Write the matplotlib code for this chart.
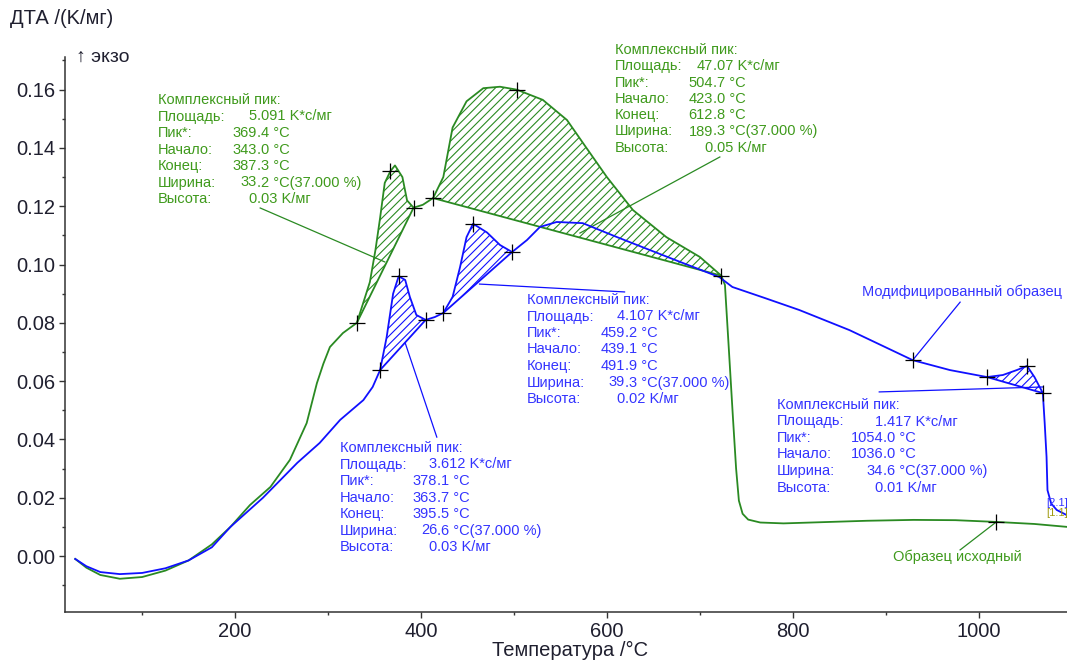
"""DTA curves of the initial and modified sample with complex-peak annotations."""
import matplotlib
matplotlib.use("Agg")
import matplotlib.pyplot as plt
import numpy as np

plt.rcParams["font.family"] = ["Liberation Sans", "DejaVu Sans"]
plt.rcParams["hatch.linewidth"] = 0.8

# ---- data ----
# green: "Образец исходный"
green_t = [28, 40, 55, 76, 100, 125, 150, 175, 195, 216, 238, 259, 277, 288, 295,
           302, 316, 331, 345, 351, 356, 361, 367, 372, 380, 385, 392, 402, 413,
           424, 434, 449, 467, 485, 503, 531, 557, 578, 600, 628, 664, 700, 723,
           727, 731, 735.5, 739, 742, 746, 752, 765, 790, 830, 880, 930, 975,
           1019, 1060, 1095]
green_dta = [-0.001, -0.004, -0.0065, -0.0078, -0.0072, -0.005, -0.0015, 0.004,
             0.010, 0.0175, 0.0237, 0.033, 0.0456, 0.0593, 0.066, 0.0717, 0.0765,
             0.080, 0.094, 0.105, 0.116, 0.128, 0.132, 0.134, 0.130, 0.122, 0.1195,
             0.1205, 0.1228, 0.130, 0.147, 0.156, 0.1605, 0.161, 0.160, 0.1565,
             0.1496, 0.140, 0.130, 0.1187, 0.1094, 0.1026, 0.0962, 0.093, 0.072,
             0.048, 0.030, 0.019, 0.0145, 0.0125, 0.0115, 0.0112, 0.0116, 0.0121,
             0.0124, 0.0123, 0.0117, 0.0110, 0.0100]

# blue: "Модифицированный образец"
blue_t = [28, 40, 55, 76, 100, 125, 150, 175, 195, 230, 267, 291, 313, 338, 348,
          356, 363, 370, 376, 383, 388, 395, 405, 415, 424, 434, 442, 449, 456,
          471, 485, 498, 514, 528, 546, 574, 611, 646, 682, 721, 735, 770, 807,
          861, 929, 969, 1009, 1026, 1041, 1052, 1060, 1069, 1071, 1073, 1074,
          1078, 1084, 1095]
blue_dta = [-0.001, -0.0035, -0.0055, -0.0062, -0.0058, -0.0042, -0.0015, 0.003,
            0.010, 0.020, 0.032, 0.0388, 0.0467, 0.0535, 0.058, 0.0638, 0.075,
            0.090, 0.096, 0.0947, 0.0889, 0.0827, 0.081, 0.082, 0.0834, 0.0889,
            0.0991, 0.1094, 0.114, 0.111, 0.1067, 0.1043, 0.1084, 0.1129, 0.1146,
            0.1142, 0.1094, 0.105, 0.1005, 0.0957, 0.0923, 0.0885, 0.0844, 0.0775,
            0.0672, 0.0638, 0.0614, 0.0621, 0.0638, 0.0652, 0.0614, 0.0559,
            0.0456, 0.034, 0.0226, 0.018, 0.0158, 0.014]

# hatched peak ranges (start, end temperature) and "+" markers
green_peaks = [(331, 392), (413, 723)]
blue_peaks = [(356, 405), (424, 498), (1009, 1069)]
green_marks = [331, 367, 392, 413, 503, 723, 1019]
blue_marks = [356, 376, 405, 424, 456, 498, 929, 1009, 1052, 1069]

# annotation tables
green_ann1 = [("Площадь:", "5", ".091 K*c/мг"), ("Пик*:", "369", ".4 °C"),
              ("Начало:", "343", ".0 °C"), ("Конец:", "387", ".3 °C"),
              ("Ширина:", "33", ".2 °C(37.000 %)"), ("Высота:", "0", ".03 K/мг")]
green_ann2 = [("Площадь:", "47", ".07 K*c/мг"), ("Пик*:", "504", ".7 °C"),
              ("Начало:", "423", ".0 °C"), ("Конец:", "612", ".8 °C"),
              ("Ширина:", "189", ".3 °C(37.000 %)"), ("Высота:", "0", ".05 K/мг")]
blue_ann1 = [("Площадь:", "3", ".612 K*c/мг"), ("Пик*:", "378", ".1 °C"),
             ("Начало:", "363", ".7 °C"), ("Конец:", "395", ".5 °C"),
             ("Ширина:", "26", ".6 °C(37.000 %)"), ("Высота:", "0", ".03 K/мг")]
blue_ann2 = [("Площадь:", "4", ".107 K*c/мг"), ("Пик*:", "459", ".2 °C"),
             ("Начало:", "439", ".1 °C"), ("Конец:", "491", ".9 °C"),
             ("Ширина:", "39", ".3 °C(37.000 %)"), ("Высота:", "0", ".02 K/мг")]
blue_ann3 = [("Площадь:", "1", ".417 K*c/мг"), ("Пик*:", "1054", ".0 °C"),
             ("Начало:", "1036", ".0 °C"), ("Ширина:", "34", ".6 °C(37.000 %)"),
             ("Высота:", "0", ".01 K/мг")]

GREEN = "#2a8a22"
GREEN_TXT = "#3f9a1c"
BLUE = "#1010ff"
BLUE_TXT = "#3434ff"
AXIS_TXT = "#1f1f2f"
ANN_FS = 10.5

W, H = 1067, 661
fig = plt.figure(figsize=(W / 100, H / 100), dpi=100)
ax = fig.add_axes([65 / W, 1 - 612 / H, (W - 65) / W, (612 - 57) / H])


def fx(px):
    return px / W


def fy(py):
    return 1 - py / H


def draw_series(t, v, peaks, marks, color):
    t = np.asarray(t, float)
    v = np.asarray(v, float)
    ax.plot(t, v, color=color, lw=1.3, zorder=3)
    for a, b in peaks:
        m = (t >= a) & (t <= b)
        ax.fill(t[m], v[m], facecolor="none", edgecolor=color, hatch="////",
                lw=0, zorder=2)
        i0, i1 = np.where(m)[0][[0, -1]]
        ax.plot([t[i0], t[i1]], [v[i0], v[i1]], color=color, lw=1.3, zorder=3)
    idx = [int(np.where(t == x)[0][0]) for x in marks]
    ax.plot(t[idx], v[idx], "+", color="black", ms=11, mew=0.9, zorder=5)


draw_series(green_t, green_dta, green_peaks, green_marks, GREEN)
draw_series(blue_t, blue_dta, blue_peaks, blue_marks, BLUE)

# leader lines (data coords)
leaders = [
    ((227, 0.1194), (361, 0.1009), GREEN),
    ((721.5, 0.1369), (571, 0.1108), GREEN),
    ((383, 0.0731), (417, 0.0408), BLUE),
    ((463, 0.0933), (619, 0.0906), BLUE),
    ((893, 0.0563), (1069, 0.0580), BLUE),
    ((929, 0.0672), (980, 0.0871), BLUE),
    ((1019, 0.0117), (980, 0.0021), GREEN),
]
for (x0, y0), (x1, y1), c in leaders:
    ax.plot([x0, x1], [y0, y1], color=c, lw=0.9, zorder=1)

ax.set_xlim(17, 1095)
ax.set_ylim(-0.0192, 0.1712)
ax.set_xticks([200, 400, 600, 800, 1000])
ax.set_xticks(np.arange(100, 1001, 200), minor=True)
ax.set_yticks(np.arange(0, 0.161, 0.02))
ax.set_yticks(np.arange(-0.01, 0.171, 0.02), minor=True)
ax.set_yticklabels([f"{v:.2f}" for v in np.arange(0, 0.161, 0.02)])
for s in ("top", "right"):
    ax.spines[s].set_visible(False)
for s in ("left", "bottom"):
    ax.spines[s].set_color("#333333")
    ax.spines[s].set_linewidth(1.1)
ax.tick_params(which="major", length=4, width=1, colors="#333333",
               labelsize=14.5, labelcolor=AXIS_TXT)
ax.tick_params(which="minor", length=2.5, width=1, colors="#333333")
ax.tick_params(axis="x", pad=3)
ax.tick_params(axis="y", pad=3)

fig.text(fx(10), fy(18), "ДТА /(K/мг)", fontsize=14.5, va="center", ha="left",
         color=AXIS_TXT)
fig.text(fx(76), fy(57), "↑ экзо", fontsize=14, va="center", ha="left",
         color=AXIS_TXT)
fig.text(fx(570), fy(650), "Температура /°C", fontsize=14.5, va="center",
         ha="center", color=AXIS_TXT)


def draw_block(x_px, y_px, rows, dec_off, color, step=16.5):
    fig.text(fx(x_px), fy(y_px), "Комплексный пик:", fontsize=ANN_FS,
             color=color, va="center", ha="left")
    for i, (lab, ip, rest) in enumerate(rows):
        yy = fy(y_px + (i + 1) * step)
        fig.text(fx(x_px), yy, lab, fontsize=ANN_FS, color=color,
                 va="center", ha="left")
        fig.text(fx(x_px + dec_off), yy, ip, fontsize=ANN_FS, color=color,
                 va="center", ha="right")
        fig.text(fx(x_px + dec_off), yy, rest, fontsize=ANN_FS, color=color,
                 va="center", ha="left")


draw_block(158, 100, green_ann1, 99, GREEN_TXT)
draw_block(615, 50, green_ann2, 98, GREEN_TXT, step=16.3)
draw_block(340, 448, blue_ann1, 97, BLUE_TXT)
draw_block(527, 300, blue_ann2, 98, BLUE_TXT)
draw_block(777, 405, blue_ann3, 106, BLUE_TXT)

fig.text(fx(862), fy(292), "Модифицированный образец", fontsize=ANN_FS,
         color=BLUE_TXT, va="center", ha="left")
fig.text(fx(893), fy(557), "Образец исходный", fontsize=ANN_FS,
         color=GREEN_TXT, va="center", ha="left")
fig.text(fx(1046), fy(503), "[2.1]", fontsize=8, color=BLUE_TXT,
         va="center", ha="left")
fig.text(fx(1046), fy(513), "[1.1]", fontsize=8, color="#a09a10",
         va="center", ha="left")

fig.savefig("out.png", dpi=100)
